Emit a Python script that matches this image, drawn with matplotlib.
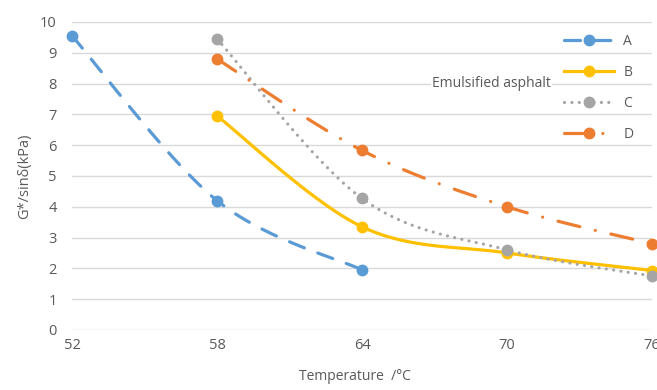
import numpy as np
import matplotlib.pyplot as plt
from matplotlib.lines import Line2D

plt.rcParams['font.family'] = ['Open Sans', 'DejaVu Sans']

temps = ["52", "58", "64", "70", "76"]

# G*/sin(delta) in kPa, None where not tested
a_vals = [9.55, 4.2, 1.95, None, None]
b_vals = [None, 6.95, 3.35, 2.5, 1.93]
c_vals = [None, 9.45, 4.27, 2.6, 1.75]
d_vals = [None, 8.8, 5.83, 4.0, 2.8]

names = ["A", "B", "C", "D"]
colors = ["#5B9BD5", "#FFC000", "#A5A5A5", "#ED7D31"]
styles = [(0, (5, 4.5)), "-", (0, (0.01, 2.3)), (0, (7, 5, 0.01, 5))]


def smooth(xs, ys, n=40):
    # Catmull-Rom style bezier, like spreadsheet "smoothed line"
    pts = np.column_stack([xs, ys])
    out = [pts[0]]
    for i in range(len(pts) - 1):
        p0 = pts[max(i - 1, 0)]
        p1 = pts[i]
        p2 = pts[i + 1]
        p3 = pts[min(i + 2, len(pts) - 1)]
        c1 = p1 + (p2 - p0) / 6
        c2 = p2 - (p3 - p1) / 6
        t = np.linspace(0, 1, n)[1:, None]
        seg = ((1 - t) ** 3 * p1 + 3 * (1 - t) ** 2 * t * c1
               + 3 * (1 - t) * t ** 2 * c2 + t ** 3 * p2)
        out.extend(seg)
    out = np.array(out)
    return out[:, 0], out[:, 1]


fig = plt.figure(figsize=(6.57, 3.9), dpi=100)
ax = fig.add_axes([0.1096, 0.154, 0.8828, 0.7896])

handles = []
for vals, name, col, ls in zip([a_vals, b_vals, c_vals, d_vals], names, colors, styles):
    xs = np.array([i for i, v in enumerate(vals) if v is not None], dtype=float)
    ys = np.array([v for v in vals if v is not None], dtype=float)
    sx, sy = smooth(xs, ys)
    ax.plot(sx, sy, color=col, lw=2.3, linestyle=ls, dash_capstyle="round",
            solid_capstyle="round", clip_on=False, zorder=3)
    ax.plot(xs, ys, "o", color=col, ms=7.5, clip_on=False, zorder=4)
    handles.append(Line2D([], [], color=col, lw=2.3, linestyle=ls, dash_capstyle="round",
                          marker="o", ms=7.5))

ax.set_xlim(0, 4)
ax.set_ylim(0, 10)
ax.set_xticks(range(len(temps)))
ax.set_xticklabels(temps)
ax.set_yticks(range(0, 11))
ax.tick_params(length=0, colors="#595959", labelsize=10.5)
ax.tick_params(axis="x", pad=6)
ax.tick_params(axis="y", pad=11)
for s in ax.spines.values():
    s.set_visible(False)
ax.grid(axis="y", color="#D9D9D9", lw=1)
ax.set_axisbelow(True)

ax.set_ylabel("G*/sinδ(kPa)", color="#595959", fontsize=10.5, labelpad=6)
ax.set_xlabel("Temperature  /°C", color="#595959", fontsize=10)
ax.xaxis.set_label_coords(0.487, -0.128)

leg = ax.legend(handles, names, loc="upper right", bbox_to_anchor=(0.968, 0.962),
                frameon=False, fontsize=10, handlelength=3.6, labelspacing=1.15,
                handletextpad=0.65, borderaxespad=0, borderpad=0)
for t in leg.get_texts():
    t.set_color("#595959")

ax.text(0.621, 0.8, "Emulsified asphalt", transform=ax.transAxes, fontsize=10,
        color="#595959", va="center", ha="left",
        bbox=dict(facecolor="white", edgecolor="none", pad=1))

fig.savefig("out.png", dpi=100)
